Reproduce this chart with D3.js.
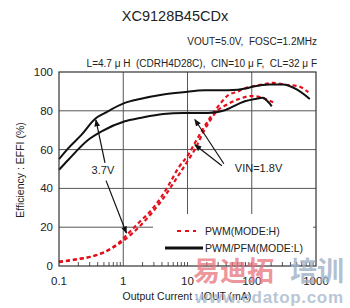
<!DOCTYPE html>
<html>
<head>
<meta charset="utf-8">
<script src="https://cdn.jsdelivr.net/npm/d3@7"></script>
<style>
body { margin: 0; background: #fff; }
svg text { font-family: "Liberation Sans", Arial, sans-serif; fill: #222; white-space: pre; }
</style>
</head>
<body>
<div id="chart"></div>
<script>
// PWM/PFM (MODE:L), VIN=3.7V
var blackHiX = [0.1, 0.14, 0.225, 0.363, 0.52, 1.06, 1.82, 4.2, 8.6, 18.6, 42.5, 88, 112, 190, 305, 500, 800];
var blackHiY = [55.1, 60.8, 67.7, 75.8, 78.9, 84.1, 86.1, 88.4, 89.6, 90.6, 90.6, 91.8, 92.7, 93.5, 93.5, 91, 86.1];
// PWM/PFM (MODE:L), VIN=1.8V
var blackLoX = [0.1, 0.14, 0.286, 0.46, 1.06, 1.82, 4.2, 8.6, 21, 38, 78, 112, 150, 170, 205];
var blackLoY = [49.6, 54.8, 65.1, 69.4, 74.6, 76.3, 78.4, 78.9, 78.9, 80.3, 84.9, 86.1, 86.7, 85.4, 82.3];
// PWM (MODE:H), VIN=3.7V
var redHiX = [0.1, 0.178, 0.286, 0.52, 0.836, 1.13, 1.82, 2.76, 3.95, 5.3, 7.2, 10.3, 13, 22.3, 30, 41, 62, 83, 142, 215, 325, 525, 760];
var redHiY = [2.2, 3.4, 4.5, 7.4, 11.7, 16, 22.9, 28.9, 35.8, 42.7, 50.5, 57.4, 63.4, 76.3, 82.3, 87.5, 90.1, 91.8, 93.5, 94.4, 93.5, 92.7, 89.6];
// PWM (MODE:H), VIN=1.8V
var redLoX = [0.1, 0.2, 0.5, 1, 2, 4, 7, 10, 13.5, 17.6, 22, 28, 40, 60, 100, 130, 170, 215];
var redLoY = [2, 3.5, 7, 13, 22, 34, 46, 54, 61, 69, 74.5, 79.5, 83, 85.8, 87.6, 87.2, 85.8, 84.4];

var xTicks = [0.1, 1, 10, 100, 1000];
var xTickLabels = ["0.1", "1", "10", "100", "1000"];
var yTicks = [0, 20, 40, 60, 80, 100];
var legendNames = ["PWM(MODE:H)", "PWM/PFM(MODE:L)"];

var width = 350, height = 308;
var svg = d3.select("#chart").append("svg")
	.attr("width", width)
	.attr("height", height);

var x = d3.scaleLog().domain([0.1, 1000]).range([59, 316]);
var y = d3.scaleLinear().domain([0, 100]).range([266, 72]);

// grid
svg.selectAll(".hgrid")
	.data([20, 40, 60, 80])
	.enter().append("line")
	.attr("x1", x(0.1)).attr("x2", x(1000))
	.attr("y1", function(d) { return y(d); })
	.attr("y2", function(d) { return y(d); })
	.style("stroke", "#555").style("stroke-width", 1);
svg.selectAll(".vgrid")
	.data([1, 10, 100])
	.enter().append("line")
	.attr("y1", y(0)).attr("y2", y(100))
	.attr("x1", function(d) { return x(d); })
	.attr("x2", function(d) { return x(d); })
	.style("stroke", "#555").style("stroke-width", 1);

// minor ticks along bottom
var minor = [];
[0.1, 1, 10, 100].forEach(function(dec) {
	for (var k = 2; k <= 9; k++) minor.push(dec * k);
});

var line = d3.line()
	.x(function(d) { return x(d[0]); })
	.y(function(d) { return y(d[1]); })
	.curve(d3.curveMonotoneX);

function zip(a, b) { return a.map(function(v, i) { return [v, b[i]]; }); }

svg.append("path").datum(zip(redHiX, redHiY)).attr("d", line)
	.style("fill", "none").style("stroke", "#e3101c").style("stroke-width", 2.2).style("stroke-dasharray", "4,3");
svg.append("path").datum(zip(redLoX, redLoY)).attr("d", line)
	.style("fill", "none").style("stroke", "#e3101c").style("stroke-width", 2.2).style("stroke-dasharray", "4,3");
svg.append("path").datum(zip(blackHiX, blackHiY)).attr("d", line)
	.style("fill", "none").style("stroke", "#111").style("stroke-width", 2);
svg.append("path").datum(zip(blackLoX, blackLoY)).attr("d", line)
	.style("fill", "none").style("stroke", "#111").style("stroke-width", 2);

// legend box (covers grid)
svg.append("rect")
	.attr("x", 153).attr("y", 214).attr("width", 160).attr("height", 48)
	.style("fill", "#fff");

svg.selectAll(".minor")
	.data(minor)
	.enter().append("line")
	.attr("x1", function(d) { return x(d); })
	.attr("x2", function(d) { return x(d); })
	.attr("y1", y(0)).attr("y2", y(0) - 4)
	.style("stroke", "#555").style("stroke-width", 1);

// frame
svg.append("rect")
	.attr("x", x(0.1)).attr("y", y(100))
	.attr("width", x(1000) - x(0.1)).attr("height", y(0) - y(100))
	.style("fill", "none").style("stroke", "#333").style("stroke-width", 1.2);

// legend
svg.append("line").attr("x1", 177).attr("x2", 196).attr("y1", 231).attr("y2", 231)
	.style("stroke", "#e3101c").style("stroke-width", 2.2).style("stroke-dasharray", "4,4");
svg.append("line").attr("x1", 165).attr("x2", 203).attr("y1", 248).attr("y2", 248)
	.style("stroke", "#111").style("stroke-width", 3.2);
svg.selectAll(".legtext")
	.data(legendNames)
	.enter().append("text")
	.attr("x", 205)
	.attr("y", function(d, i) { return 235 + i * 17; })
	.style("font-size", "10.5px")
	.text(function(d) { return d; });

// axis labels
svg.selectAll(".xlab")
	.data(xTicks)
	.enter().append("text")
	.attr("x", function(d) { return x(d); })
	.attr("y", 285)
	.attr("text-anchor", "middle")
	.style("font-size", "11.5px")
	.text(function(d, i) { return xTickLabels[i]; });
svg.selectAll(".ylab")
	.data(yTicks)
	.enter().append("text")
	.attr("x", 53)
	.attr("y", function(d) { return y(d) + 4; })
	.attr("text-anchor", "end")
	.style("font-size", "11.5px")
	.text(function(d) { return d; });

svg.append("text")
	.attr("x", 187).attr("y", 300)
	.attr("text-anchor", "middle")
	.style("font-size", "10.5px")
	.text("Output Current : IOUT (mA)");
svg.append("text")
	.attr("transform", "translate(24,170) rotate(-90)")
	.attr("text-anchor", "middle")
	.style("font-size", "10.5px")
	.text("Efficiency : EFFI (%)");

// titles
svg.append("text")
	.attr("x", 175).attr("y", 21)
	.attr("text-anchor", "middle")
	.style("font-size", "14.5px")
	.text("XC9128B45CDx");
svg.append("text")
	.attr("x", 317).attr("y", 45)
	.attr("text-anchor", "end")
	.style("font-size", "10px")
	.text("VOUT=5.0V,  FOSC=1.2MHz");
svg.append("text")
	.attr("x", 317).attr("y", 67)
	.attr("text-anchor", "end")
	.style("font-size", "10px")
	.text("L=4.7 \u03bc H  (CDRH4D28C),  CIN=10 \u03bc F,  CL=32 \u03bc F");

// annotations
svg.append("defs").append("marker")
	.attr("id", "ah")
	.attr("viewBox", "0 0 10 10")
	.attr("refX", 9).attr("refY", 5)
	.attr("markerWidth", 6).attr("markerHeight", 6)
	.attr("orient", "auto")
	.append("path").attr("d", "M0,1 L10,5 L0,9 z").style("fill", "#111");

var arrows = [
	[0.52, 53.2, 0.375, 75.3],
	[0.54, 44, 1.12, 17],
	[36.8, 52.7, 13.0, 75.5],
	[34.3, 51.7, 13.0, 62.5]
];
svg.selectAll(".arrow")
	.data(arrows)
	.enter().append("line")
	.attr("x1", function(d) { return x(d[0]); })
	.attr("y1", function(d) { return y(d[1]); })
	.attr("x2", function(d) { return x(d[2]); })
	.attr("y2", function(d) { return y(d[3]); })
	.style("stroke", "#111").style("stroke-width", 1.2)
	.attr("marker-end", "url(#ah)");

svg.append("text")
	.attr("x", x(0.483)).attr("y", y(49.6) + 4)
	.attr("text-anchor", "middle")
	.style("font-size", "11px")
	.text("3.7V");
svg.append("text")
	.attr("x", x(54.6)).attr("y", y(50.6) + 4)
	.style("font-size", "11px")
	.text("VIN=1.8V");

// watermark
svg.append("text")
	.attr("x", 193).attr("y", 281)
	.style("font-size", "27px").style("font-weight", "bold")
	.style("font-family", "'Noto Sans CJK SC', sans-serif")
	.style("fill", "#e8747c").style("opacity", 0.75)
	.text("易迪拓");
svg.append("text")
	.attr("x", 290).attr("y", 281)
	.style("font-size", "27px").style("font-weight", "bold")
	.style("font-family", "'Noto Sans CJK SC', sans-serif")
	.style("fill", "#9fb2c8").style("opacity", 0.8)
	.text("培训");
svg.append("text")
	.attr("x", 195).attr("y", 303)
	.attr("textLength", 148)
	.style("font-size", "17px").style("font-weight", "bold")
	.style("fill", "#a9b9cc").style("opacity", 0.8)
	.text("www.edatop.com");
</script>
</body>
</html>
